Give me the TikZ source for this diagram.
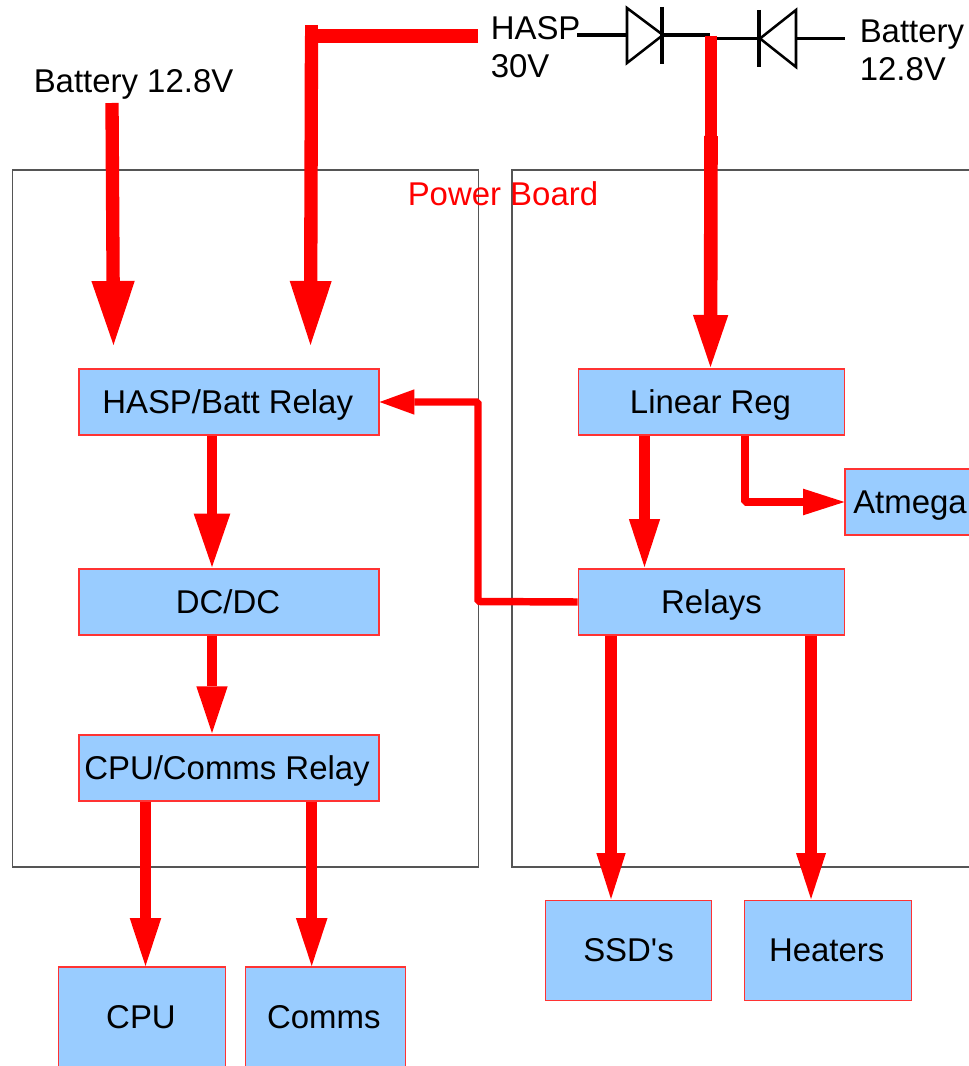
\documentclass[tikz,border=0pt]{standalone}
\usepackage{fontspec}
\setmainfont{Liberation Sans}
\newfontfamily\plainf{Liberation Sans}
\usetikzlibrary{arrows.meta}
\tikzset{
  x=0.75pt,y=-0.75pt,
  every node/.style={font=\fontsize{24.7pt}{28.7pt}\selectfont,text=black},
  box/.style={draw=red!80!white,line width=0.9pt,fill=boxblue,inner sep=0pt,anchor=center,
    text height=17.7pt,text depth=0.5pt},
  frame/.style={draw=framegray,line width=0.85pt},
  wire/.style={draw=black,line width=2.3pt},
  diode/.style={draw=black,line width=1.9pt,line join=miter},
  feed/.style={draw=red,line join=bevel},
  pwr/.style n args={3}{draw=red,line join=bevel,line width=#1,-{Triangle[length=#2,width=#3,fill=red,line width=0pt]}},
  lab/.style={anchor=base west,inner sep=0pt},
  lab2/.style={anchor=west,align=left,inner sep=0pt},
}
\definecolor{boxblue}{HTML}{99CCFF}
\definecolor{framegray}{HTML}{555555}
\begin{document}
\begin{tikzpicture}
\useasboundingbox (0,0) rectangle (969,1066);
\clip (0,0) rectangle (969,1066);
% frames
\draw[frame] (12.7,170) rectangle (478.7,867);
\draw[frame] (512,170) rectangle (1000,867);
\node[lab,text=red] (pb) at (407.5,205) {Power Board};
% boxes
\node[box,minimum width=225pt,minimum height=49.5pt] (hr) at (229,402) {\kern-2pt HASP/Batt Relay};
\node[box,minimum width=225pt,minimum height=49.5pt] (dc) at (229,602) {\kern-1.5pt DC/DC};
\node[box,minimum width=225pt,minimum height=49.5pt] (cr) at (229,768) {\kern-3pt CPU/Comms Relay};
\node[box,minimum width=200pt,minimum height=49.5pt] (lr) at (711.5,402) {\kern-1.5pt Linear Reg};
\node[box,minimum width=200pt,minimum height=49.5pt] (rl) at (711.5,602) {Relays};
\node[box,minimum width=97.5pt,minimum height=49.5pt] (at) at (910,502) {Atmega};
\node[box,minimum width=125pt,minimum height=74.5pt] (ssd) at (628.5,950.5) {\plainf SSD's};
\node[box,minimum width=125pt,minimum height=74.5pt] (ht) at (828,950.5) {\kern-2pt Heaters};
\node[box,minimum width=125pt,minimum height=75pt] (cpu) at (142,1017) {\kern-1.5pt CPU};
\node[box,minimum width=119.5pt,minimum height=75pt] (com) at (325.5,1017) {\kern-2.5pt Comms};
% labels
\node[lab] (batl) at (33.5,93) {Battery 12.8V};
\node[lab2] (hasp) at (490.5,47.5) {HASP\\30V};
\node[lab2] (batr) at (859.5,50) {Battery\\12.8V};
% free ends of the connectors
\coordinate (a1s) at (112,103);
\coordinate (a1e) at (113.5,345);
\coordinate (a2t) at (311.5,25);
\coordinate (a2h) at (311.5,36);
\coordinate (a2e) at (310.5,345);
\coordinate (d1a) at (577,35);
\coordinate (d1k) at (663,35);
\coordinate (j1) at (710,35);
\coordinate (j2) at (710,38.5);
\coordinate (d2k) at (760,38.5);
\coordinate (d2a) at (796,38.5);
\coordinate (d2e) at (845,38.5);
\coordinate (jt) at (711,36);
\coordinate (jm) at (711,136);
\coordinate (lrin) at (710.5,367);
\coordinate (dcin) at (212,567);
\coordinate (crin) at (212,733);
\coordinate (rlin) at (644.5,567);
\coordinate (rlx) at (478,601.5);
\coordinate (hrx) at (478,402);
\coordinate (atx) at (744.5,502);
\coordinate (ssdin) at (611,899);
\coordinate (htin) at (811,899);
\coordinate (cpuin) at (145.5,966);
\coordinate (comin) at (311.7,966);
% power arrows
\draw[pwr={10pt}{48pt}{32.5pt}] (a1s) -- (a1e);
\draw[feed,line width=10.5pt] (478,36) -- (a2h);
\draw[feed,line width=10pt] (a2t) -- (a2h);
\draw[pwr={10pt}{48pt}{31.5pt}] (a2h) -- (a2e);
\draw[wire] (d1a) -- (626,35);
\draw[wire] (d1k) -- (j1);
\draw[wire] (j2) -- (758,38.5);
\draw[wire] (d2a) -- (d2e);
\draw[diode] (627,8) -- (627,63) -- (d1k) -- cycle;
\draw[diode,line width=2.3pt] (662,7) -- (662,64);
\draw[diode] (796,10) -- (796,67) -- (d2k) -- cycle;
\draw[diode,line width=2.3pt] (759,10) -- (759,67);
\draw[feed,line width=8.4pt] (jt) -- (jm);
\draw[pwr={10.2pt}{39pt}{26.5pt}] (jm) -- (lrin);
\draw[pwr={8pt}{40pt}{27.5pt}] (hr.south -| dcin) -- (dcin);
\draw[pwr={8pt}{35pt}{23.5pt}] (dc.south -| crin) -- (crin);
\draw[pwr={8pt}{36pt}{23.5pt}] (lr.south -| rlin) -- (rlin);
\draw[pwr={6pt}{31pt}{20pt}] (lr.south -| atx) -- (atx) -- (at.west);
\draw[pwr={5.6pt}{26pt}{19pt}] (rl.west) -- (rlx) -- (hrx) -- (hr.east);
\draw[pwr={8.4pt}{34.5pt}{22pt}] (rl.south -| ssdin) -- (ssdin);
\draw[pwr={8.4pt}{34.5pt}{22.5pt}] (rl.south -| htin) -- (htin);
\draw[pwr={8pt}{36pt}{23.7pt}] (cr.south -| cpuin) -- (cpuin);
\draw[pwr={8pt}{36pt}{23.7pt}] (cr.south -| comin) -- (comin);
\end{tikzpicture}
\end{document}
